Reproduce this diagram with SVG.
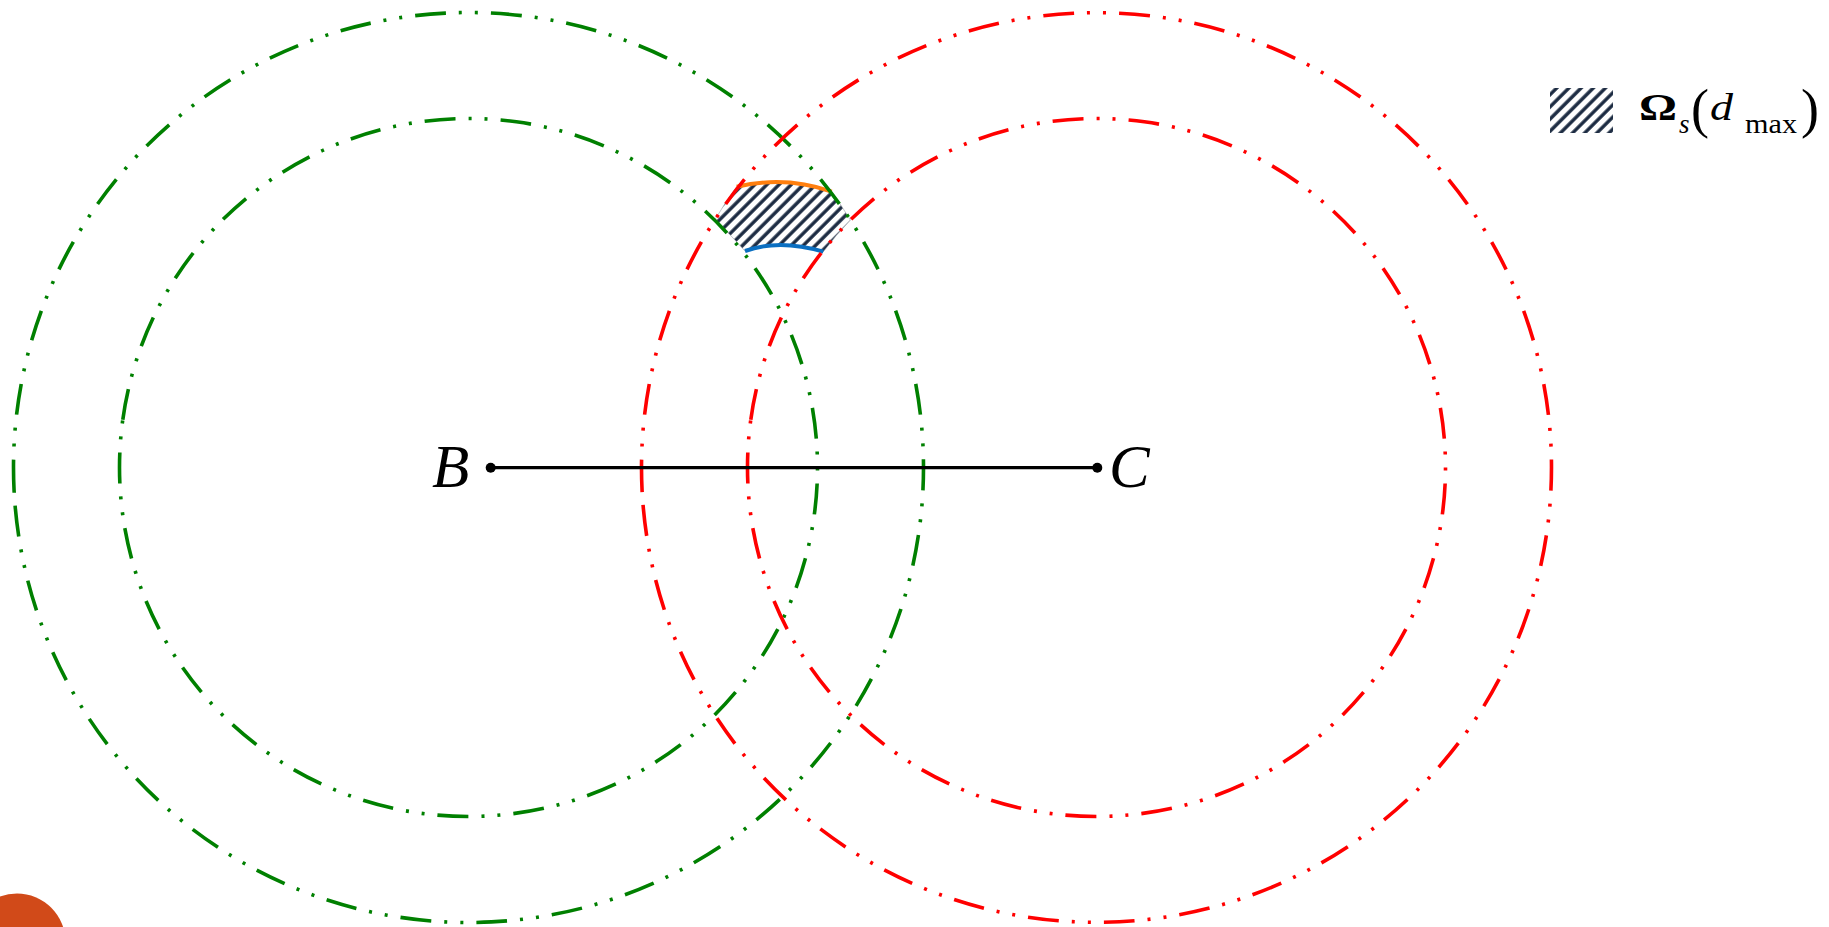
<svg xmlns="http://www.w3.org/2000/svg" width="1829" height="927" viewBox="0 0 1829 927">
  <style>
    .ring { fill: none; stroke-width: 3.6; stroke-dasharray: 31 13 3 13 3 13; stroke-linecap: butt; }
    .green { stroke: #008000; }
    .red { stroke: #ff0000; }
    .lbl { font-family: "Liberation Serif", "DejaVu Serif", serif; fill: #000; }
  </style>
  <defs>
    <pattern id="hatch" patternUnits="userSpaceOnUse" width="8.6" height="8.6" patternTransform="rotate(45)">
      <rect x="0" y="0" width="8.6" height="8.6" fill="#ffffff"/>
      <line x1="2" y1="-1" x2="2" y2="10" stroke="#1b2a41" stroke-width="3.4"/>
    </pattern>
  </defs>
  <rect width="1829" height="927" fill="#ffffff"/>

  <g id="region">
    <path d="M736.7 186.7 Q785.8 175.4 831.7 191.7 A455 455 0 0 1 850.35 220.1 A349 349 0 0 0 823.3 251.7 Q779.3 238.6 745 251 A349 349 0 0 0 714.65 220.1 A455 455 0 0 1 736.7 186.7 Z" fill="url(#hatch)" stroke="#9aa0a8" stroke-width="0.6"/>
  </g>

  <g id="bounds">
    <path d="M736.7 186.7 Q785.8 175.4 831.7 191.7" fill="none" stroke="#ff7f0e" stroke-width="4"/>
    <path d="M745 251 Q779.3 238.6 823.3 251.7" fill="none" stroke="#0b6fc1" stroke-width="4"/>
  </g>

  <g id="circles">
    <path id="green-outer" class="ring green" d="M14.08 490.49 A455 455 0 0 1 922.92 444.51 A455 455 0 0 1 14.08 490.49"/>
    <path id="green-inner" class="ring green" d="M122.79 419.66 A349 349 0 0 1 814.21 515.34 A349 349 0 0 1 122.79 419.66"/>
    <path id="red-outer" class="ring red" d="M642.08 490.49 A455 455 0 0 1 1550.92 444.51 A455 455 0 0 1 642.08 490.49"/>
    <path id="red-inner" class="ring red" d="M750.79 419.66 A349 349 0 0 1 1442.21 515.34 A349 349 0 0 1 750.79 419.66"/>
  </g>

  <g id="connectors">
    <line x1="490.7" y1="467.7" x2="1097.3" y2="467.7" stroke="#000" stroke-width="3.2"/>
  </g>

  <g id="node-B">
    <circle cx="490.7" cy="467.7" r="5" fill="#000"/>
    <text class="lbl" x="432" y="486.7" font-size="61" font-style="italic">B</text>
  </g>
  <g id="node-C">
    <circle cx="1097.3" cy="467.7" r="5" fill="#000"/>
    <text class="lbl" x="1109" y="486.7" font-size="61" font-style="italic">C</text>
  </g>

  <g id="legend">
    <rect x="1550" y="88" width="63" height="45" fill="url(#hatch)"/>
    <text class="lbl" x="1639" y="120" font-size="38" font-weight="bold" textLength="38" lengthAdjust="spacingAndGlyphs">Ω</text>
    <text class="lbl" x="1679" y="133" font-size="27" font-style="italic">s</text>
    <text class="lbl" x="1691" y="127" font-size="54">(</text>
    <text class="lbl" x="1710" y="120" font-size="37" font-style="italic" textLength="23" lengthAdjust="spacingAndGlyphs">d</text>
    <text class="lbl" x="1745" y="133" font-size="27" textLength="52" lengthAdjust="spacingAndGlyphs">max</text>
    <text class="lbl" x="1801" y="127" font-size="54">)</text>
  </g>

  <g id="badge">
    <circle cx="17" cy="942" r="48.5" fill="#d14a19"/>
  </g>
</svg>
